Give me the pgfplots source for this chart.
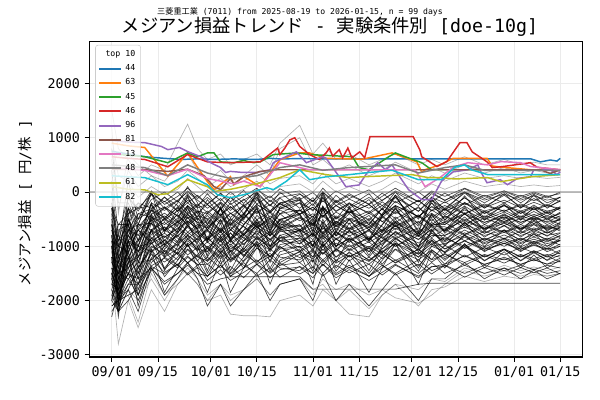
\documentclass[border=0pt]{standalone}
\usepackage{pgfplots}
\pgfplotsset{compat=1.18}
\usepackage{pgfplotstable}
\usepackage{fontspec}
\setmainfont{DejaVu Sans Mono}
\newfontfamily\jp{Noto Sans CJK JP}
\definecolor{tabblue}{HTML}{1F77B4}
\definecolor{taborange}{HTML}{FF7F0E}
\definecolor{tabgreen}{HTML}{2CA02C}
\definecolor{tabred}{HTML}{D62728}
\definecolor{tabpurple}{HTML}{9467BD}
\definecolor{tabbrown}{HTML}{8C564B}
\definecolor{tabpink}{HTML}{E377C2}
\definecolor{tabgray}{HTML}{7F7F7F}
\definecolor{tabolive}{HTML}{BCBD22}
\definecolor{tabcyan}{HTML}{17BECF}

\pgfplotstableread{
name c0 c1 c2 c3 c4 c5 c6 c7 c8 c9 c10 c11 c12 c13 c14 c15 c16 c17 c18 c19 c20 c21 c22 c23 c24 c25 c26 c27 c28 c29 c30 c31 c32 c33
x 0 2 5 8 12 16 20 23 26 29 33 36 40 44 48 51 57 61 64 68 72 78 82 86 93 97 101 107 113 119 124 128 132 136
b1 400 -800 -100 -300 -50 -300 -150 0 -150 -300 -120 -300 -150 0 -250 -100 -30 -250 0 -250 -130 -300 -150 0 -250 -30 -150 0 -150 -40 -150 -70 -150 -100
b2 -600 -900 -300 -500 0 -500 -200 100 -200 -600 -200 -600 -300 0 -500 -200 -100 -500 0 -500 -200 -600 -300 0 -500 -100 -200 0 -200 0 -200 -40 -200 -100
b3 800 -200 -200 -650 -350 -100 -250 -400 -250 -100 -300 -100 -250 -400 -150 -300 -350 -150 -400 -150 -300 -100 -250 -400 -150 -350 -250 -400 -250 -350 -250 -330 -250 -300
b4 -1200 -1300 -700 -600 0 -750 -300 -30 -300 -900 -300 -900 -450 0 -750 -300 -150 -750 0 -750 -300 -900 -450 -60 -750 -150 -300 -20 -300 -30 -300 -60 -300 -150
b5 200 -1100 -400 -300 -250 -500 -350 -200 -350 -400 -200 -400 -250 -100 -350 -200 -150 -350 -100 -350 -200 -400 -250 -100 -350 -150 -350 -200 -350 -250 -350 -270 -350 -300
b6 -900 -1600 -500 -900 -200 -700 -400 -100 -400 -700 -300 -700 -400 -100 -600 -300 -200 -600 -100 -600 -300 -700 -400 -100 -600 -200 -400 -100 -400 -200 -400 -240 -400 -300
b7 -300 -600 -600 -200 -540 -290 -440 -590 -440 -490 -690 -490 -640 -790 -540 -690 -740 -540 -790 -540 -690 -490 -640 -790 -540 -740 -440 -590 -440 -540 -440 -520 -440 -490
b8 -1500 -1100 -300 -700 -330 -700 -480 -260 -480 -700 -400 -700 -480 -260 -630 -400 -330 -630 -260 -630 -400 -700 -480 -260 -630 -330 -480 -260 -480 -330 -480 -360 -480 -400
b9 0 -1300 -800 -1000 -220 -970 -520 -70 -520 -870 -270 -870 -420 -50 -720 -270 -120 -720 -40 -720 -270 -870 -420 -60 -720 -120 -520 -70 -520 -220 -520 -280 -520 -370
b10 -1800 -1400 -900 -400 -460 -710 -560 -410 -560 -860 -660 -860 -710 -560 -810 -660 -610 -810 -560 -810 -660 -860 -710 -560 -810 -610 -560 -410 -560 -460 -560 -480 -560 -510
b11 -700 -1000 -500 -1200 -400 -900 -600 -300 -600 -900 -500 -900 -600 -300 -800 -500 -400 -800 -300 -800 -500 -900 -600 -300 -800 -400 -600 -300 -600 -400 -600 -440 -600 -500
b12 -1100 -1000 -700 -800 -740 -490 -640 -790 -640 -390 -590 -390 -540 -690 -440 -590 -640 -440 -690 -440 -590 -390 -540 -690 -440 -640 -640 -790 -640 -740 -640 -720 -640 -690
b13 -400 -1700 -1000 -600 -580 -830 -680 -530 -680 -930 -730 -930 -780 -630 -880 -730 -680 -880 -630 -880 -730 -930 -780 -630 -880 -680 -680 -530 -680 -580 -680 -600 -680 -630
b14 -1600 -700 -600 -1400 -420 -1170 -720 -270 -720 -1170 -570 -1170 -720 -270 -1020 -570 -420 -1020 -270 -1020 -570 -1170 -720 -270 -1020 -420 -720 -270 -720 -420 -720 -480 -720 -570
b15 -1000 -800 -1200 -900 -560 -1060 -760 -460 -760 -910 -510 -910 -610 -310 -810 -510 -410 -810 -310 -810 -510 -910 -610 -310 -810 -410 -760 -460 -760 -560 -760 -600 -760 -660
b16 -2000 -1200 -800 -1100 -700 -950 -800 -650 -800 -1050 -850 -1050 -900 -750 -1000 -850 -800 -1000 -750 -1000 -850 -1050 -900 -750 -1000 -800 -800 -650 -800 -700 -800 -720 -800 -750
b17 -600 -1400 -1100 -700 -950 -700 -850 -1000 -850 -700 -900 -700 -850 -1000 -750 -900 -950 -750 -1000 -750 -900 -700 -850 -1000 -750 -950 -850 -1000 -850 -950 -850 -930 -850 -900
b18 -1300 -1500 -900 -1500 -700 -1200 -900 -600 -900 -1100 -700 -1100 -800 -500 -1000 -700 -600 -1000 -500 -1000 -700 -1100 -800 -500 -1000 -600 -900 -600 -900 -700 -900 -740 -900 -800
b19 -800 -1600 -1300 -1200 -850 -1100 -950 -800 -950 -1250 -1050 -1250 -1100 -950 -1200 -1050 -1000 -1200 -950 -1200 -1050 -1250 -1100 -950 -1200 -1000 -950 -800 -950 -850 -950 -870 -950 -900
b20 -1700 -1800 -1000 -1600 -700 -1450 -1000 -550 -1000 -1450 -850 -1450 -1000 -550 -1300 -850 -700 -1300 -550 -1300 -850 -1450 -1000 -550 -1300 -700 -1000 -550 -1000 -700 -1000 -760 -1000 -850
b21 -1200 -1200 -1400 -1000 -950 -1200 -1050 -900 -1050 -1100 -900 -1100 -950 -800 -1050 -900 -850 -1050 -800 -1050 -900 -1100 -950 -800 -1050 -850 -1050 -900 -1050 -950 -1050 -970 -1050 -1000
b22 -1900 -1600 -1200 -1700 -900 -1400 -1100 -800 -1100 -1500 -1100 -1500 -1200 -900 -1400 -1100 -1000 -1400 -900 -1400 -1100 -1500 -1200 -900 -1400 -1000 -1100 -800 -1100 -900 -1100 -940 -1100 -1000
b23 -900 -1900 -1500 -1300 -1250 -1000 -1150 -1300 -1150 -1000 -1200 -1000 -1150 -1300 -1050 -1200 -1250 -1050 -1300 -1050 -1200 -1000 -1150 -1300 -1050 -1250 -1150 -1300 -1150 -1250 -1150 -1230 -1150 -1200
b24 -1500 -1800 -1300 -1800 -1050 -1420 -1200 -980 -1200 -1270 -970 -1270 -1050 -830 -1200 -970 -900 -1200 -830 -1200 -970 -1270 -1050 -830 -1200 -900 -1200 -980 -1200 -1050 -1200 -1080 -1200 -1120
b25 -2100 -2000 -1600 -1400 -1060 -1560 -1260 -960 -1260 -1560 -1160 -1560 -1260 -960 -1460 -1160 -1060 -1460 -960 -1460 -1160 -1560 -1260 -960 -1460 -1060 -1260 -960 -1260 -1060 -1260 -1100 -1260 -1160
b26 -1400 -1500 -1400 -1900 -1230 -1480 -1330 -1180 -1330 -1630 -1430 -1630 -1480 -1330 -1580 -1430 -1380 -1580 -1330 -1580 -1430 -1630 -1480 -1330 -1580 -1380 -1330 -1180 -1330 -1230 -1330 -1250 -1330 -1280
b27 -1800 -2100 -1700 -1700 -1100 -1850 -1400 -950 -1400 -1850 -1250 -1850 -1400 -950 -1700 -1250 -1100 -1700 -950 -1700 -1250 -1850 -1400 -950 -1700 -1100 -1400 -950 -1400 -1100 -1400 -1160 -1400 -1250
b28 -1600 -1900 -1500 -2000 -1400 -1650 -1500 -1350 -1500 -1550 -1350 -1550 -1400 -1250 -1500 -1350 -1300 -1500 -1250 -1500 -1350 -1550 -1400 -1250 -1500 -1300 -1500 -1350 -1500 -1400 -1500 -1420 -1500 -1450
b29 -2000 -2200 -1800 -2200 -1400 -1900 -1600 -1300 -1600 -2100 -1700 -2100 -1800 -1500 -2000 -1700 -1600 -2000 -1500 -2000 -1700 -2100 -1800 -1500 -2000 -1600 -1600 -1300 -1600 -1400 -1600 -1440 -1600 -1500
b30 -1700 -2000 -1900 -2400 -1500 -1900 -1700 -1500 -1700 -2000 -1900 -2250 -2280 -2280 -2300 -2000 -1900 -2100 -1800 -2000 -1800 -2150 -1900 -1700 -2100 -1800 -1750 -1550 -1650 -1550 -1600 -1520 -1550 -1500
b31 -1000 -1900 -1500 -1600 -1400 -1700 -1500 -1300 -1500 -1700 -1600 -1560 -1560 -1560 -1560 -1560 -1560 -1790 -1790 -1790 -1790 -1790 -1790 -1790 -1700 -1680 -1680 -1680 -1680 -1680 -1680 -1680 -1680 -1680
b32 1500 800 600 300 500 400 900 1250 800 600 700 500 600 700 500 900 1230 700 900 600 700 500 600 700 500 600 500 650 500 600 500 550 500 500
b33 1200 -400 700 500 300 200 500 700 400 200 400 200 300 500 300 800 1000 500 600 400 500 300 400 550 350 450 350 500 350 450 350 400 350 380
b34 -1500 -2800 -2000 -2500 -1800 -2200 -1700 -1500 -1700 -2000 -1700 -1900 -1800 -1600 -1900 -1700 -1600 -1900 -1600 -1800 -1700 -1900 -1800 -1950 -2050 -1900 -1700 -1450 -1550 -1450 -1550 -1480 -1550 -1500
b35 -1200 -2200 -1800 -2000 -1600 -2000 -1600 -1400 -1600 -1900 -1700 -2000 -1800 -1600 -1900 -1700 -1600 -1800 -1700 -2000 -2250 -2300 -1900 -1700 -1800 -1600 -1650 -1400 -1500 -1350 -1450 -1380 -1450 -1380
b36 1000 300 200 -100 100 -50 50 250 100 -50 100 -50 50 200 0 100 150 0 200 0 100 -50 50 200 0 150 50 200 100 150 100 130 100 120
b37 600 -300 400 100 300 100 200 400 250 100 250 100 200 350 150 250 300 150 350 150 250 100 200 350 150 300 200 350 250 300 250 280 250 270
b38 -200 -1200 -100 -350 20 -230 -80 70 -80 -230 -30 -230 -80 70 -180 -30 20 -180 70 -180 -30 -230 -80 70 -180 20 -80 70 -80 20 -80 0 -80 -30
b39 -1500 -2000 -1200 -1900 -1450 -1200 -1350 -1500 -1350 -1200 -1400 -1200 -1350 -1500 -1250 -1400 -1450 -1250 -1500 -1250 -1400 -1200 -1350 -1500 -1250 -1450 -1350 -1500 -1350 -1450 -1350 -1430 -1350 -1400
b40 -1000 -2100 -900 -1100 -500 -1000 -700 -400 -700 -1200 -800 -1200 -900 -600 -1100 -800 -700 -1100 -600 -1100 -800 -1200 -900 -600 -1100 -700 -700 -400 -700 -500 -700 -540 -700 -600
b41 -300 -1000 200 -500 -140 0 -180 20 -120 40 -160 0 -210 40 -110 60 -140 -10 -180 20 -120 40 -160 20 -180 0 -160 60 -120 20 -120 -20 -110 0
b42 -800 -1800 -50 -600 -40 -180 0 -200 -60 -220 -20 -180 30 -220 -70 -240 -40 -170 0 -200 -60 -220 -20 -200 0 -180 -20 -240 -60 -200 -60 -160 -70 -180
b43 -1300 -600 -400 -200 -300 -90 -360 -60 -270 -30 -330 -90 -400 -30 -255 0 -300 -105 -360 -60 -270 -30 -330 -60 -360 -90 -330 0 -270 -60 -270 -120 -255 -90
b44 -500 -2100 -700 -400 -310 -170 -350 -150 -290 -230 -430 -270 -480 -230 -380 -210 -410 -280 -450 -250 -390 -230 -430 -250 -450 -270 -330 -110 -290 -150 -290 -190 -280 -170
b45 -1000 -1400 -300 -900 -200 -340 -160 -360 -220 -380 -180 -340 -130 -380 -230 -400 -200 -330 -160 -360 -220 -380 -180 -360 -160 -340 -180 -400 -220 -360 -220 -320 -230 -340
b46 -1700 -1300 -500 -800 -410 -270 -450 -250 -390 -230 -430 -270 -480 -230 -380 -210 -410 -280 -450 -250 -390 -230 -430 -250 -450 -270 -430 -210 -390 -250 -390 -290 -380 -270
b47 -200 -900 -600 -1100 -490 -280 -550 -250 -460 -140 -440 -200 -515 -140 -365 -110 -410 -215 -470 -170 -380 -140 -440 -170 -470 -200 -520 -190 -460 -250 -460 -310 -445 -280
b48 -1500 -1900 -800 -500 -330 -470 -290 -490 -350 -510 -310 -470 -260 -510 -360 -530 -330 -460 -290 -490 -350 -510 -310 -490 -290 -470 -310 -530 -350 -490 -350 -450 -360 -470
b49 -900 -1000 -1100 -700 -530 -390 -570 -370 -510 -350 -550 -390 -600 -350 -500 -330 -530 -400 -570 -370 -510 -350 -550 -370 -570 -390 -550 -330 -510 -370 -510 -410 -500 -390
b50 -2000 -1600 -400 -1300 -580 -440 -620 -420 -560 -550 -750 -590 -800 -550 -700 -530 -730 -600 -770 -570 -710 -550 -750 -570 -770 -590 -600 -380 -560 -420 -560 -460 -550 -440
b51 -600 -1200 -900 -1000 -460 -600 -420 -620 -480 -640 -440 -600 -390 -640 -490 -660 -460 -590 -420 -620 -480 -640 -440 -620 -420 -600 -440 -660 -480 -620 -480 -580 -490 -600
b52 -1200 -2000 -1300 -600 -700 -490 -760 -460 -670 -430 -730 -490 -805 -430 -655 -400 -700 -505 -760 -460 -670 -430 -730 -460 -760 -490 -730 -400 -670 -460 -670 -520 -655 -490
b53 -300 -1500 -700 -1200 -700 -560 -740 -540 -680 -520 -720 -560 -770 -520 -670 -500 -700 -570 -740 -540 -680 -520 -720 -540 -740 -560 -720 -500 -680 -540 -680 -580 -670 -560
b54 -1800 -2200 -1000 -900 -580 -720 -540 -740 -600 -660 -460 -620 -410 -660 -510 -680 -480 -610 -440 -640 -500 -660 -460 -640 -440 -620 -560 -780 -600 -740 -600 -700 -610 -720
b55 -1100 -1700 -1200 -1500 -780 -640 -820 -620 -760 -600 -800 -640 -850 -600 -750 -580 -780 -650 -820 -620 -760 -600 -800 -620 -820 -640 -800 -580 -760 -620 -760 -660 -750 -640
b56 -700 -1300 -1500 -1100 -860 -650 -920 -620 -830 -690 -990 -750 -1065 -690 -915 -660 -960 -765 -1020 -720 -930 -690 -990 -720 -1020 -750 -890 -560 -830 -620 -830 -680 -815 -650
b57 -1400 -1700 -600 -1300 -700 -840 -660 -860 -720 -880 -680 -840 -630 -880 -730 -900 -700 -830 -660 -860 -720 -880 -680 -860 -660 -840 -680 -900 -720 -860 -720 -820 -730 -840
b58 -2200 -2000 -900 -700 -900 -760 -940 -740 -880 -720 -920 -760 -970 -720 -870 -700 -900 -770 -940 -740 -880 -720 -920 -740 -940 -760 -920 -700 -880 -740 -880 -780 -870 -760
b59 -800 -1900 -1400 -1200 -950 -810 -990 -790 -930 -650 -850 -690 -900 -650 -800 -630 -830 -700 -870 -670 -810 -650 -850 -670 -870 -690 -970 -750 -930 -790 -930 -830 -920 -810
b60 -1600 -1500 -1100 -1600 -840 -980 -800 -1000 -860 -1020 -820 -980 -770 -1020 -870 -1040 -840 -970 -800 -1000 -860 -1020 -820 -1000 -800 -980 -820 -1040 -860 -1000 -860 -960 -870 -980
b61 -1300 -1500 -1600 -1900 -1090 -880 -1150 -850 -1060 -820 -1120 -880 -1195 -820 -1045 -790 -1090 -895 -1150 -850 -1060 -820 -1120 -850 -1150 -880 -1120 -790 -1060 -850 -1060 -910 -1045 -880
b62 -1900 -2200 -1300 -1000 -1100 -960 -1140 -940 -1080 -920 -1120 -960 -1170 -920 -1070 -900 -1100 -970 -1140 -940 -1080 -920 -1120 -940 -1140 -960 -1120 -900 -1080 -940 -1080 -980 -1070 -960
b63 -1000 -2000 -1800 -1400 -1000 -1140 -960 -1160 -1020 -1280 -1080 -1240 -1030 -1280 -1130 -1300 -1100 -1230 -1060 -1260 -1120 -1280 -1080 -1260 -1060 -1240 -980 -1200 -1020 -1160 -1020 -1120 -1030 -1140
b64 -2300 -1800 -1500 -1700 -1210 -1070 -1250 -1050 -1190 -1030 -1230 -1070 -1280 -1030 -1180 -1010 -1210 -1080 -1250 -1050 -1190 -1030 -1230 -1050 -1250 -1070 -1230 -1010 -1190 -1050 -1190 -1090 -1180 -1070
b65 -1700 -1800 -1100 -2100 -1300 -1090 -1360 -1060 -1270 -1030 -1330 -1090 -1405 -1030 -1255 -1000 -1300 -1105 -1360 -1060 -1270 -1030 -1330 -1060 -1360 -1090 -1330 -1000 -1270 -1060 -1270 -1120 -1255 -1090
b66 -1400 -2000 -1700 -1500 -1150 -1290 -1110 -1310 -1170 -1330 -1130 -1290 -1080 -1330 -1180 -1350 -1150 -1280 -1110 -1310 -1170 -1330 -1130 -1310 -1110 -1290 -1130 -1350 -1170 -1310 -1170 -1270 -1180 -1290
b67 -2100 -2000 -1900 -1800 -1360 -1220 -1400 -1200 -1340 -1330 -1530 -1370 -1580 -1330 -1480 -1310 -1510 -1380 -1550 -1350 -1490 -1330 -1530 -1350 -1550 -1370 -1380 -1160 -1340 -1200 -1340 -1240 -1330 -1220
b68 -600 -2000 -500 -1000 -330 -540 -270 -570 -360 -600 -300 -540 -225 -600 -375 -630 -330 -525 -270 -570 -360 -600 -300 -570 -270 -540 -300 -630 -360 -570 -360 -510 -375 -540
b69 -1200 -2300 -900 -1400 -1030 -890 -1070 -870 -1010 -850 -1050 -890 -1100 -850 -1000 -830 -1030 -900 -1070 -870 -1010 -850 -1050 -870 -1070 -890 -1050 -830 -1010 -870 -1010 -910 -1000 -890
b70 -1600 -2200 -2000 -1700 -1370 -1510 -1330 -1530 -1390 -1550 -1350 -1510 -1300 -1550 -1400 -1570 -1370 -1500 -1330 -1530 -1390 -1550 -1350 -1530 -1330 -1510 -1350 -1570 -1390 -1530 -1390 -1490 -1400 -1510
}\rawtab
\pgfplotstabletranspose[colnames from=name]{\datatab}{\rawtab}

\begin{document}
\begin{tikzpicture}
\path[use as bounding box] (-67pt,-32.25pt) rectangle (383pt,267.75pt);
\begin{axis}[
  scale only axis, width=370pt, height=236.5pt,
  xmin=-6.8, xmax=142.8, ymin=-3040, ymax=2770,
  xtick={0,14,30,44,61,75,91,105,122,136},
  xticklabels={09/01,09/15,10/01,10/15,11/01,11/15,12/01,12/15,01/01,01/15},
  ytick={-3000,-2000,-1000,0,1000,2000},
  yticklabels={-3000,-2000,-1000,0,1000,2000},
  xtick pos=left, ytick pos=left,
  tick align=outside, major tick length=3.6pt,
  tick style={black, line width=0.6pt},
  grid=major, major grid style={black!8, line width=0.6pt},
  axis line style={black, line width=0.8pt},
  ticklabel style={font=\fontsize{10}{12}\selectfont},
  legend style={at={(0.012,0.99)}, anchor=north west, draw=black!20, rounded corners=2pt,
    fill=white, fill opacity=0.8, text opacity=1,
    font=\fontsize{6.2}{7}\selectfont, row sep=0.6pt, inner sep=2pt},
  legend cell align=right,
  legend image code/.code={\draw[line width=1.5pt] (0pt,0pt) -- (16pt,0pt);},
]
\pgfplotsinvokeforeach{1,...,29,31,38,39,...,70}{
  \addplot[black, opacity=0.72, line width=0.5pt, forget plot] table[x=x, y=b#1] {\datatab};
}
\pgfplotsinvokeforeach{30,32,33,34,35,36,37}{
  \addplot[black, opacity=0.3, line width=0.5pt, forget plot] table[x=x, y=b#1] {\datatab};
}
\addlegendimage{empty legend}\addlegendentry{\hspace*{-14pt}top 10}
\addplot[tabblue, line width=1.1pt] coordinates {(0,750)(5,700)(10,650)(16,620)(21,600)(26,610)(31,600)(37,610)(44,600)(48,620)(51,610)(57,615)(64,610)(72,612)(86,612)(100,612)(115,612)(127,612)(130,555)(133,590)(135,570)(136,620)};
\addlegendentry{44}
\addplot[taborange, line width=1.1pt] coordinates {(0,900)(5,850)(10,820)(17,290)(23,720)(29,190)(31,43)(36,283)(37,135)(40,287)(45,98)(51,594)(57,720)(60,720)(65,620)(76,605)(85,720)(92.5,555)(94,370)(95,410)(99.5,500)(103.5,620)(113.8,620)(115.4,480)(117.8,460)(127,410)(136,410)};
\addlegendentry{63}
\addplot[tabgreen, line width=1.1pt] coordinates {(0,700)(5,680)(10,650)(17,540)(23,720)(26,650)(29,720)(31,720)(33,555)(37,540)(40,580)(43,540)(45,555)(49,690)(56,720)(60,690)(73,650)(75,450)(78,410)(84,650)(86,720)(89,650)(94,540)(97,410)(104,410)(136,410)};
\addlegendentry{45}
\addplot[tabred, line width=1.1pt] coordinates {(0,650)(5,620)(10,600)(17,465)(23,690)(29,555)(35,540)(45,555)(50.3,810)(51,690)(52.5,810)(54,960)(55.5,1000)(57,840)(60,690)(63,600)(65,720)(66,810)(67,660)(69,780)(70,630)(71.6,810)(72.8,630)(75.2,740)(76.7,630)(78.3,1020)(91.4,1020)(93.4,780)(94,650)(98.6,470)(101.6,560)(105.6,910)(107.7,910)(109.3,740)(113.8,555)(115.4,450)(118.7,470)(126.9,540)(129,455)(136,410)};
\addlegendentry{46}
\addplot[tabpurple, line width=1.1pt] coordinates {(0,950)(5,920)(10,910)(15,840)(17,780)(20.5,820)(23,745)(27,650)(30,540)(33,450)(34.5,360)(36,380)(39.7,360)(44,360)(48,410)(49,540)(51,600)(56,740)(59,540)(64,650)(65,620)(69,280)(71,98)(75,130)(77.5,360)(80.7,540)(83,410)(85,500)(87.5,265)(90,43)(94,-140)(97,-140)(100,200)(103.5,370)(108,410)(111,500)(112,360)(113.8,170)(117.8,227)(120,135)(123,250)(127,283)(128,410)(133,410)(135,320)(136,370)};
\addlegendentry{96}
\addplot[tabbrown, line width=1.1pt] coordinates {(0,420)(10,410)(17,380)(23,420)(28,300)(31,100)(33,43)(36,250)(37,150)(40,280)(45,380)(50,410)(130,410)(133,340)(136,410)};
\addlegendentry{81}
\addplot[tabpink, line width=1.1pt] coordinates {(0,450)(10,400)(17,300)(23,420)(29,250)(33,200)(37,150)(40,200)(45,98)(51,540)(57,450)(60,410)(92,410)(93.4,265)(95,98)(99.5,265)(103.5,455)(108,540)(114,500)(118,560)(124,540)(127,470)(136,410)};
\addlegendentry{13}
\addplot[tabgray, line width=1.1pt] coordinates {(0,500)(10,450)(17,300)(23,500)(29,350)(36,250)(44,300)(51,450)(57,500)(64,400)(72,450)(86,500)(93,350)(101,450)(107,500)(113,400)(136,400)};
\addlegendentry{48}
\addplot[tabolive, line width=1.1pt] coordinates {(0,100)(5,50)(10,40)(14,-50)(17,-30)(23,227)(29,98)(31,10)(36,50)(40,100)(45,170)(51,265)(57,410)(65,320)(72,265)(76,280)(91,320)(96,265)(99.5,265)(104,240)(114,265)(118,190)(127,280)(136,320)};
\addlegendentry{61}
\addplot[tabcyan, line width=1.1pt] coordinates {(0,300)(5,280)(10,265)(17,135)(23,320)(29,135)(32,-50)(36,-105)(40,-50)(47,80)(49,43)(53,200)(57,410)(60,227)(65,280)(72,320)(78,360)(85,400)(93,227)(100,227)(104,455)(107,500)(109,410)(114,320)(136,320)};
\addlegendentry{82}
\addplot[gray, opacity=0.5, line width=1.5pt, forget plot] coordinates {(-6.8,0)(142.8,0)};
\end{axis}
\node[font=\fontsize{13.7}{16}\selectfont, anchor=center] at (180.5pt,247.5pt) {{\jp メジアン損益トレンド} - {\jp 実験条件別} [doe-10g]};
\node[font=\fontsize{6.1}{7}\selectfont, anchor=center] at (158pt,258.75pt) {{\jp 三菱重工業} (7011) from 2025-08-19 to 2026-01-15, n = 99 days};
\node[font=\fontsize{10.8}{13}\selectfont, rotate=90, anchor=center] at (-48.2pt,115.5pt) {{\jp メジアン損益} [ {\jp 円}/{\jp 株} ]};
\end{tikzpicture}
\end{document}
